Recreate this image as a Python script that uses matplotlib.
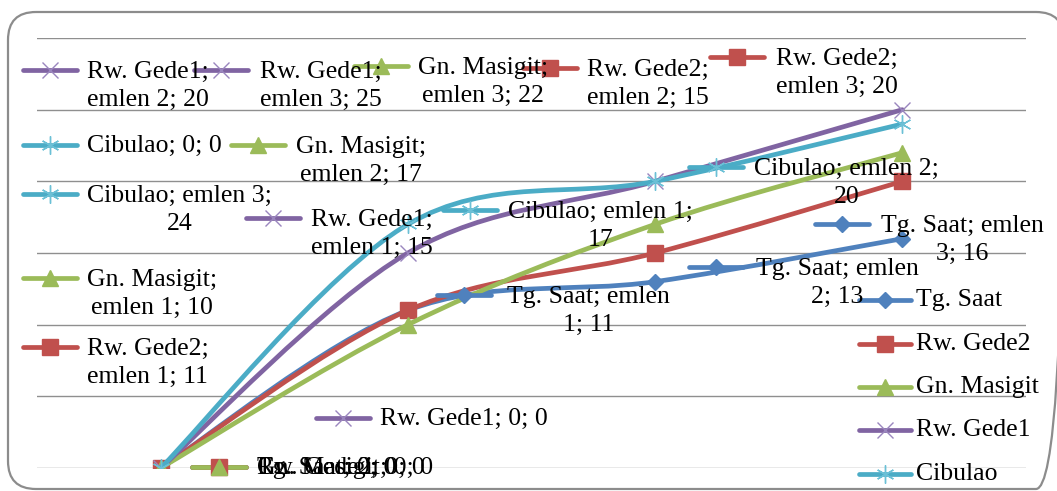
import matplotlib
matplotlib.use("Agg")
import matplotlib.pyplot as plt
from matplotlib.path import Path
from matplotlib.patches import PathPatch, FancyBboxPatch
from matplotlib.lines import Line2D

# ---------------- data ----------------
categories = ["0", "emlen 1", "emlen 2", "emlen 3"]
series_names = ["Tg. Saat", "Rw. Gede2", "Gn. Masigit", "Rw. Gede1", "Cibulao"]
tg_saat = [0, 11, 13, 16]
rw_gede2 = [0, 11, 15, 20]
gn_masigit = [0, 10, 17, 22]
rw_gede1 = [0, 15, 20, 25]
cibulao = [0, 17, 20, 24]
series_values = [tg_saat, rw_gede2, gn_masigit, rw_gede1, cibulao]
y_ticks = [0, 5, 10, 15, 20, 25, 30]

# ---------------- styles ----------------
colors = ["#4F81BD", "#C0504D", "#9BBB59", "#8064A2", "#4BACC6"]
marker_colors = ["#4F81BD", "#C0504D", "#9BBB59", "#9A86BE", "#6BC0D6"]
markers = ["D", "s", "^", "x", (6, 2, 0)]
msizes = [8, 12, 12, 12, 13]
mews = [1, 1, 1, 1.0, 1.0]
FONT = "Liberation Serif"
FS = 18.5
LSP = 1.4
LINE_H = 30  # px between label lines
LW = 3.4

W, H = 1057, 491
fig = plt.figure(figsize=(W / 100, H / 100), dpi=100)

# plot area (pixel based)
px_left, px_right, px_top, px_bottom = 37, 1026, 38, 468
ax = fig.add_axes([px_left / W, (H - px_bottom) / H,
                   (px_right - px_left) / W, (px_bottom - px_top) / H])
ax.set_xlim(-0.5, len(categories) - 0.5)
ax.set_ylim(y_ticks[0], y_ticks[-1])
for s in ax.spines.values():
    s.set_visible(False)
ax.set_xticks([])
ax.set_yticks([])
ax.patch.set_visible(False)
for yv in y_ticks:
    ax.axhline(yv, color="#8f8f8f", lw=1.0, zorder=1)


def smooth_path(xs, ys):
    pts = list(zip(xs, ys))
    n = len(pts)
    verts = [pts[0]]
    codes = [Path.MOVETO]
    for i in range(n - 1):
        p0 = pts[i - 1] if i > 0 else pts[i]
        p1 = pts[i]
        p2 = pts[i + 1]
        p3 = pts[i + 2] if i + 2 < n else pts[i + 1]
        c1 = (p1[0] + (p2[0] - p0[0]) / 6.0, p1[1] + (p2[1] - p0[1]) / 6.0)
        c2 = (p2[0] - (p3[0] - p1[0]) / 6.0, p2[1] - (p3[1] - p1[1]) / 6.0)
        verts += [c1, c2, p2]
        codes += [Path.CURVE4] * 3
    return Path(verts, codes)


xs = list(range(len(categories)))
for i, vals in enumerate(series_values):
    patch = PathPatch(smooth_path(xs, vals), facecolor="none",
                      edgecolor=colors[i], lw=LW, zorder=3 + i,
                      capstyle="round", joinstyle="round")
    ax.add_patch(patch)
    ax.plot(xs, vals, linestyle="none", marker=markers[i], ms=msizes[i],
            color=marker_colors[i], mec=marker_colors[i], mew=mews[i],
            zorder=3 + i)

# ---------------- overlay for labels / legend ----------------
ov = fig.add_axes([0, 0, 1, 1])
ov.set_xlim(0, W)
ov.set_ylim(H, 0)
ov.axis("off")
ov.patch.set_visible(False)

border = FancyBboxPatch((8, 12), 1056, 477,
                        boxstyle="round,pad=0,rounding_size=28",
                        facecolor="none", edgecolor="#8c8c8c", lw=1.6,
                        zorder=0)
ov.add_patch(border)


def draw_key(si, cx, cy, half=27):
    ov.add_line(Line2D([cx - half, cx + half], [cy, cy], color=colors[si],
                       lw=LW, solid_capstyle="round", zorder=20))
    ov.add_line(Line2D([cx], [cy], linestyle="none", marker=markers[si],
                       ms=msizes[si], color=marker_colors[si],
                       mec=marker_colors[si], mew=mews[si], zorder=21))


def label_text(si, ci, style):
    s = series_names[si]
    c = categories[ci]
    v = series_values[si][ci]
    if style == "a":
        return f"{s};\n{c}; {v}"
    if style == "b":
        return f"{s}; {c};\n{v}"
    if style == "c":
        return f"{s}; {c}; {v}".replace("emlen ", "emlen\n", 1)
    return f"{s}; {c}; {v}"


# (series index, category index, key centre x, first-line y, text x, style)
label_layout = [
    (3, 2, 50, 70, 87, "a"),
    (3, 3, 221, 70, 260, "a"),
    (2, 3, 381, 66, 418, "a"),
    (1, 2, 550, 68, 587, "a"),
    (1, 3, 737, 57, 776, "a"),
    (4, 0, 50, 145, 87, "s"),
    (2, 2, 258, 145, 296, "a"),
    (4, 3, 50, 194, 87, "b"),
    (3, 1, 273, 218, 311, "a"),
    (4, 1, 470, 210, 508, "b"),
    (4, 2, 716, 167, 754, "b"),
    (0, 3, 842, 224, 881, "c"),
    (0, 2, 716, 267, 756, "c"),
    (0, 1, 464, 295, 507, "c"),
    (2, 1, 50, 278, 87, "a"),
    (1, 1, 50, 347, 87, "a"),
    (3, 0, 343, 418, 380, "s"),
    (0, 0, 219, 467, 257, "s"),
    (1, 0, 219, 467, 257, "s"),
    (2, 0, 219, 467, 257, "s"),
]

for si, ci, kx, ly, tx, style in label_layout:
    txt = label_text(si, ci, style)
    nlines = txt.count("\n") + 1
    draw_key(si, kx, ly)
    ov.text(tx, ly + 1 + (nlines - 1) * LINE_H / 2, txt, family=FONT,
            fontsize=FS, ha="left", va="center", multialignment="center",
            linespacing=LSP, color="black", zorder=22)

# legend (right side)
legend_y = [300, 344, 387, 430, 474]
for si, ly in enumerate(legend_y):
    draw_key(si, 885, ly, half=26)
    ov.text(916, ly, series_names[si], family=FONT, fontsize=FS,
            ha="left", va="center", color="black", zorder=22)

fig.savefig("out.png", dpi=100)
